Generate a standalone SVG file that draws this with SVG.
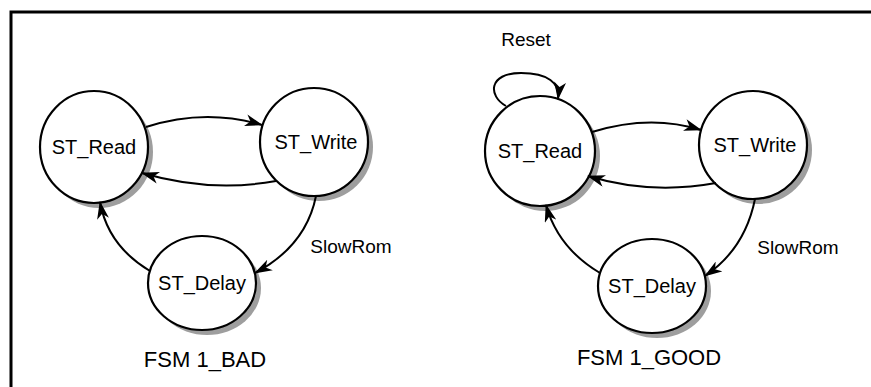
<svg xmlns="http://www.w3.org/2000/svg" width="871" height="387" viewBox="0 0 871 387">
<style>
.frame{fill:none;stroke:#000;stroke-width:3}
.shadow{fill:#9e9e9e}
.node{fill:#fff;stroke:#000;stroke-width:2.2}
.lbl{font-family:"Liberation Sans",Arial,sans-serif;font-size:20px;fill:#000;text-anchor:middle}
.elbl{font-family:"Liberation Sans",Arial,sans-serif;font-size:19px;fill:#000;text-anchor:middle}
.title{font-family:"Liberation Sans",Arial,sans-serif;font-size:22px;fill:#000;text-anchor:middle}
.edge{fill:none;stroke:#000;stroke-width:2;marker-end:url(#ah)}
</style>
<defs>
<marker id="ah" viewBox="0 0 18 12" refX="17" refY="6" markerWidth="18" markerHeight="12" markerUnits="userSpaceOnUse" orient="auto">
<path d="M0,0 L18,6 L0,12 L5,6 Z" fill="#000"/>
</marker>
</defs>
<rect width="871" height="387" fill="#fff"/>
<path class="frame" d="M11,387 V12 H871"/>

<g id="bad-read"><ellipse class="shadow" cx="99" cy="152" rx="54" ry="56"/><ellipse class="node" cx="94" cy="147" rx="54" ry="56"/><text class="lbl" x="94" y="154">ST_Read</text></g>
<g id="bad-write"><ellipse class="shadow" cx="319" cy="147" rx="54" ry="54"/><ellipse class="node" cx="314" cy="142" rx="54" ry="54"/><text class="lbl" x="316" y="149">ST_Write</text></g>
<g id="bad-delay"><ellipse class="shadow" cx="207" cy="288" rx="54" ry="47"/><ellipse class="node" cx="202" cy="283" rx="54" ry="47"/><text class="lbl" x="202" y="290">ST_Delay</text></g>

<g id="good-read"><ellipse class="shadow" cx="545" cy="156" rx="55" ry="55"/><ellipse class="node" cx="540" cy="151" rx="55" ry="55"/><text class="lbl" x="540" y="158">ST_Read</text></g>
<g id="good-write"><ellipse class="shadow" cx="758" cy="150" rx="54" ry="54"/><ellipse class="node" cx="753" cy="145" rx="54" ry="54"/><text class="lbl" x="755" y="152">ST_Write</text></g>
<g id="good-delay"><ellipse class="shadow" cx="657" cy="291" rx="54" ry="47"/><ellipse class="node" cx="652" cy="286" rx="54" ry="47"/><text class="lbl" x="652" y="293">ST_Delay</text></g>

<g id="connectors">
<path class="edge" d="M146,127 Q205,108 262,125"/>
<path class="edge" d="M276,181 Q210,193 142,173"/>
<path class="edge" d="M316,196 Q306,246 255,273"/>
<path class="edge" d="M150,271 Q108,246 100,202"/>

<path class="edge" d="M506,106 C488,96 488,73 521,73 C548,73 560,83 558,99"/>
<path class="edge" d="M592,132 Q650,114 701,130"/>
<path class="edge" d="M716,183 Q650,195 588,176"/>
<path class="edge" d="M755,199 Q745,249 705,276"/>
<path class="edge" d="M600,273 Q558,248 546,205"/>
</g>

<g id="labels">
<text class="elbl" x="351" y="253">SlowRom</text>
<text class="elbl" x="798" y="254">SlowRom</text>
<text class="elbl" x="526" y="46">Reset</text>
<text class="title" x="205" y="367">FSM 1_BAD</text>
<text class="title" x="649" y="365">FSM 1_GOOD</text>
</g>
</svg>
